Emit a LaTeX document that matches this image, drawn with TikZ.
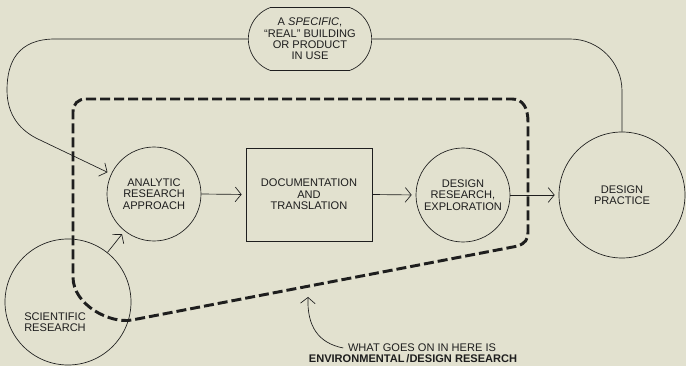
\documentclass[tikz,border=0pt]{standalone}
\usepackage{fontspec}
\setmainfont{Liberation Sans}
\usetikzlibrary{arrows.meta,shapes.misc}
\definecolor{paper}{RGB}{226,225,207}
\definecolor{ink}{RGB}{30,30,30}
\tikzset{every picture/.style={line width=0.5pt}}

\begin{document}
\begin{tikzpicture}[x=0.75pt,y=0.75pt,yscale=-1,xscale=1,
  every node/.style={font=\fontsize{8.3}{8.5}\selectfont,align=center,text=ink},
  bubble/.style={circle,draw=ink,inner sep=0pt},
  flow/.style={draw=ink,-{Straight Barb[length=4.5pt,width=11pt]},shorten >=3pt},
  zone/.style={draw=ink,line width=2.2pt,dash pattern=on 7.5pt off 3pt}]
%set diagram left start at 0, and has height of 366
\fill[paper] (0,0) rectangle (686,366);

%Shape: Rounded Rect
\node[draw=ink,rounded rectangle,rounded rectangle arc length=140,minimum width=94.5pt,minimum height=47.25pt,inner sep=1pt] (building) at (310,39) {A \textit{SPECIFIC},\\“REAL” BUILDING\\OR PRODUCT\\IN USE};
%Shape: Circle
\node[bubble,minimum size=70.5pt] (analytic) at (154,194) {ANALYTIC\\RESEARCH\\APPROACH};
%Shape: Rectangle
\node[draw=ink,minimum width=94.5pt,minimum height=69.75pt] (docu) at (309,194.5) {DOCUMENTATION\\AND\\TRANSLATION};
%Shape: Circle
\node[bubble,minimum size=70.5pt] (explore) at (463,195) {DESIGN\\RESEARCH,\\EXPLORATION};
%Shape: Circle
\node[bubble,minimum size=94.5pt] (practice) at (622,195) {DESIGN\\PRACTICE};
%Shape: Circle
\node[bubble,minimum size=94.5pt] (science) at (68,302) {};
% Text Node
\node (sciencetext) at (55,322) {SCIENTIFIC\\RESEARCH};

%Dashed boundary
\draw[zone] (86,99) -- (512,99) .. controls (523,99) and (528,108) .. (528,122) -- (528,232) .. controls (528,240) and (525,243) .. (518,246) -- (132,320) .. controls (110,324) and (73,305) .. (73,277) -- (73,112) .. controls (73,104) and (78,99) .. (86,99) -- cycle;

%Curve Lines
\draw[flow] (building.west) -- (55,39) .. controls (18,39) and (7,62) .. (7,90) .. controls (7,115) and (20,131) .. (40,140) -- (analytic.155);
%Straight Lines
\draw[ink,rounded corners=39pt] (building.east) -- (practice.north |- building.east) -- (practice.north);
\draw[flow] (analytic.east) -- (docu.west);
\draw[flow] (docu.east) -- (explore.west);
\draw[flow] (explore.east) -- (practice.west);
\draw[flow] (science) -- (analytic);

% Text Node
\node (notea) at (422,348) {WHAT GOES ON IN HERE IS};
% Text Node
\node[font=\fontsize{8.3}{8.5}\selectfont\bfseries] (noteb) at (413,359) {ENVIRONMENTAL\,/DESIGN RESEARCH};
\coordinate (aim) at (308,297);
%Curve Lines
\draw[flow,shorten >=0pt] (notea.west) .. controls (318,343) and (307,326) .. (aim);

\end{tikzpicture}
\end{document}
